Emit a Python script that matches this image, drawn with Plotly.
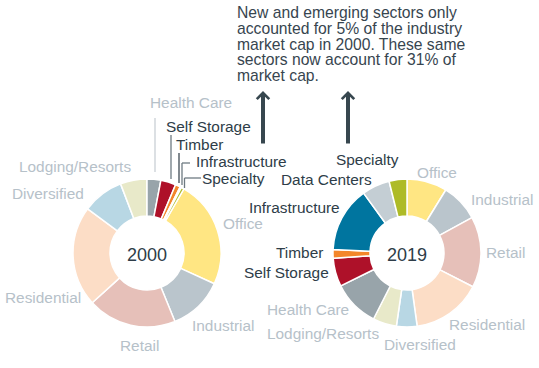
import plotly.graph_objects as go

W, H = 539, 368

# ---------------- data ----------------
categories = ["Office", "Industrial", "Retail", "Residential", "Diversified",
              "Lodging/Resorts", "Health Care", "Self Storage", "Timber",
              "Infrastructure", "Data Centers", "Specialty"]
share_2000 = [23.5, 12.0, 19.4, 21.9, 9.0, 5.8, 3.0, 3.3, 1.1, 0.3, 0.0, 0.6]
share_2019 = [8.8, 8.3, 15.5, 15.3, 4.5, 5.2, 10.2, 6.2, 1.9, 14.3, 6.1, 3.9]
new_sectors = ["Self Storage", "Timber", "Infrastructure", "Data Centers", "Specialty"]
note_lines = ["New and emerging sectors only",
              "accounted for 5% of the industry",
              "market cap in 2000. These same",
              "sectors now account for 31% of",
              "market cap."]

# ---------------- styles ----------------
colors = {
    "Office": "#FFE683", "Industrial": "#BAC5CC", "Retail": "#E6C0B9",
    "Residential": "#FCDDC6", "Diversified": "#B8D7E4", "Lodging/Resorts": "#E8E9C9",
    "Health Care": "#98A4AA", "Self Storage": "#AE1129", "Timber": "#F3862A",
    "Infrastructure": "#00759F", "Data Centers": "#C4CED4", "Specialty": "#AEBB27",
}
LIGHT = "#B6C1C9"
DARK = "#2E3D48"
FONT = "Liberation Sans, Arial, sans-serif"

def px2paper(x, y):
    return x / W, 1 - y / H

def dom(cx, cy, r):
    return dict(x=[(cx - r) / W, (cx + r) / W], y=[(H - cy - r) / H, (H - cy + r) / H])

# rotation for 2000 so the slices continue the same clockwise order
pre = sum(share_2000[6:]) / sum(share_2000) * 360

fig = go.Figure()
for vals, cx, rot, yr in [(share_2000, 147, pre, "2000"), (share_2019, 407, 0, "2019")]:
    fig.add_trace(go.Pie(
        labels=categories, values=vals, sort=False, direction="clockwise",
        rotation=rot, hole=0.5, textinfo="none", showlegend=False,
        marker=dict(colors=[colors[c] for c in categories],
                    line=dict(color="white", width=1.5)),
        domain=dom(cx, 253, 74),
        title=dict(text=yr, position="middle center",
                   font=dict(family=FONT, size=18, color=DARK)),
    ))

# label placements (pixel left-x, center-y)
pos_2000 = {
    "Health Care": (149, 102), "Self Storage": (165, 126), "Timber": (175, 144),
    "Infrastructure": (195, 161), "Specialty": (201, 178), "Lodging/Resorts": (18, 166),
    "Diversified": (11, 193), "Residential": (4, 297), "Retail": (119, 345),
    "Industrial": (191, 325), "Office": (222, 223),
}
pos_2019 = {
    "Specialty": (335, 159), "Data Centers": (280, 180), "Infrastructure": (248, 207),
    "Timber": (275, 252), "Self Storage": (243, 272), "Health Care": (266, 309),
    "Lodging/Resorts": (266, 333), "Diversified": (383, 344), "Residential": (448, 324),
    "Retail": (485, 252), "Industrial": (470, 199), "Office": (416, 172),
}
annotations = []
for posd in (pos_2000, pos_2019):
    for name, (x, y) in posd.items():
        xp, yp = px2paper(x, y)
        annotations.append(dict(
            text=name, x=xp, y=yp, xref="paper", yref="paper",
            xanchor="left", yanchor="middle", showarrow=False, borderpad=0,
            font=dict(family=FONT, size=15.4,
                      color=DARK if name in new_sectors else LIGHT)))

for i, line in enumerate(note_lines):
    xp, yp = px2paper(236, 12.7 + i * 15.7)
    annotations.append(dict(
        text=line, x=xp, y=yp, xref="paper", yref="paper", xanchor="left",
        yanchor="middle", showarrow=False, borderpad=0,
        font=dict(family=FONT, size=15.7, color="#37454F")))

for ax_px in (263, 348):
    xp, yp = px2paper(ax_px, 91)
    annotations.append(dict(
        text="", x=xp, y=yp, xref="paper", yref="paper", ax=0, ay=54,
        showarrow=True, arrowhead=4, arrowsize=0.6, arrowwidth=4,
        arrowcolor="#37474F", standoff=0))

# leader lines (pixel coordinates)
leaders = [
    ((155, 118), (155, 172), "#C9D0D5"),
    ((171, 135), (171, 179), "#6E7A82"),
    ((179, 153), (179, 183), "#3E4A53"),
    ((190, 163), (182, 163), "#6E7A82"),
    ((182, 163), (182, 185), "#6E7A82"),
    ((201, 178), (184.5, 178), "#6E7A82"),
    ((184.5, 178), (184.5, 188), "#6E7A82"),
]
shapes = []
for (x0, y0), (x1, y1), c in leaders:
    a = px2paper(x0, y0)
    b = px2paper(x1, y1)
    shapes.append(dict(type="line", xref="paper", yref="paper",
                       x0=a[0], y0=a[1], x1=b[0], y1=b[1],
                       line=dict(color=c, width=1.3)))

fig.update_layout(
    width=W, height=H, margin=dict(l=0, r=0, t=0, b=0),
    paper_bgcolor="white", plot_bgcolor="white",
    annotations=annotations, shapes=shapes,
    font=dict(family=FONT),
)
fig.write_html("out.html",
               config={"displayModeBar": False},
               post_script="document.body.style.margin='0px';"
                           "document.body.style.overflow='hidden';")
